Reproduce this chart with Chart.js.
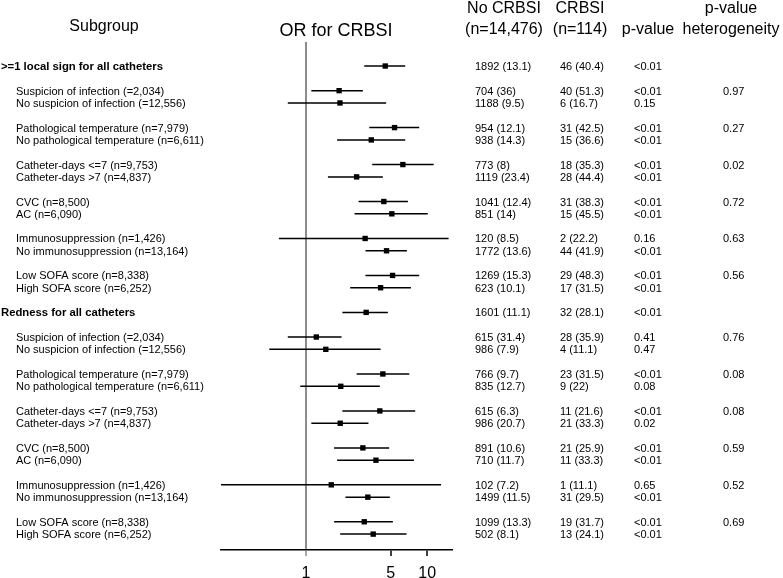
<!DOCTYPE html>
<html>
<head>
<meta charset="utf-8">
<script src="https://cdn.jsdelivr.net/npm/chart.js@4.4.0/dist/chart.umd.min.js"></script>
<style>
html,body{margin:0;padding:0;background:#fff;}
#wrap{width:783px;height:578px;position:relative;}
</style>
</head>
<body>
<div id="wrap"><canvas id="c"></canvas></div>
<script>
// ---- data (blank strings / nulls are spacer rows of the table) ----
const subgroups = [
  ">=1 local sign for all catheters", "",
  "Suspicion of infection (=2,034)", "No suspicion of infection (=12,556)", "",
  "Pathological temperature (n=7,979)", "No pathological temperature (n=6,611)", "",
  "Catheter-days <=7 (n=9,753)", "Catheter-days >7 (n=4,837)", "",
  "CVC (n=8,500)", "AC (n=6,090)", "",
  "Immunosuppression (n=1,426)", "No immunosuppression (n=13,164)", "",
  "Low SOFA score (n=8,338)", "High SOFA score (n=6,252)", "",
  "Redness for all catheters", "",
  "Suspicion of infection (=2,034)", "No suspicion of infection (=12,556)", "",
  "Pathological temperature (n=7,979)", "No pathological temperature (n=6,611)", "",
  "Catheter-days <=7 (n=9,753)", "Catheter-days >7 (n=4,837)", "",
  "CVC (n=8,500)", "AC (n=6,090)", "",
  "Immunosuppression (n=1,426)", "No immunosuppression (n=13,164)", "",
  "Low SOFA score (n=8,338)", "High SOFA score (n=6,252)"
];
const groupHeaders = [">=1 local sign for all catheters", "Redness for all catheters"];

const orValues = [
  4.51, null,
  1.88, 1.91, null,
  5.38, 3.46, null,
  6.30, 2.62, null,
  4.39, 5.11, null,
  3.08, 4.62, null,
  5.18, 4.13, null,
  3.14, null,
  1.22, 1.46, null,
  4.31, 1.94, null,
  4.07, 1.92, null,
  2.95, 3.78, null,
  1.62, 3.24, null,
  3.03, 3.59
];
const ciLower = [
  3.03, null,
  1.11, 0.71, null,
  3.33, 1.81, null,
  3.52, 1.52, null,
  2.72, 2.52, null,
  0.60, 3.10, null,
  3.10, 2.32, null,
  2.00, null,
  0.71, 0.50, null,
  2.62, 0.90, null,
  2.00, 1.11, null,
  1.71, 1.81, null,
  0.20, 2.12, null,
  1.71, 1.92
];
const ciUpper = [
  6.59, null,
  2.95, 4.59, null,
  8.59, 6.59, null,
  11.3, 4.31, null,
  6.93, 10.1, null,
  15.0, 6.80, null,
  8.59, 7.34, null,
  4.74, null,
  1.97, 4.13, null,
  7.11, 4.07, null,
  7.96, 3.28, null,
  4.86, 7.77, null,
  13.0, 4.92, null,
  5.21, 6.75
];
const noCrbsi = [
  "1892 (13.1)", "",
  "704 (36)", "1188 (9.5)", "",
  "954 (12.1)", "938 (14.3)", "",
  "773 (8)", "1119 (23.4)", "",
  "1041 (12.4)", "851 (14)", "",
  "120 (8.5)", "1772 (13.6)", "",
  "1269 (15.3)", "623 (10.1)", "",
  "1601 (11.1)", "",
  "615 (31.4)", "986 (7.9)", "",
  "766 (9.7)", "835 (12.7)", "",
  "615 (6.3)", "986 (20.7)", "",
  "891 (10.6)", "710 (11.7)", "",
  "102 (7.2)", "1499 (11.5)", "",
  "1099 (13.3)", "502 (8.1)"
];
const crbsi = [
  "46 (40.4)", "",
  "40 (51.3)", "6 (16.7)", "",
  "31 (42.5)", "15 (36.6)", "",
  "18 (35.3)", "28 (44.4)", "",
  "31 (38.3)", "15 (45.5)", "",
  "2 (22.2)", "44 (41.9)", "",
  "29 (48.3)", "17 (31.5)", "",
  "32 (28.1)", "",
  "28 (35.9)", "4 (11.1)", "",
  "23 (31.5)", "9 (22)", "",
  "11 (21.6)", "21 (33.3)", "",
  "21 (25.9)", "11 (33.3)", "",
  "1 (11.1)", "31 (29.5)", "",
  "19 (31.7)", "13 (24.1)"
];
const pValues = [
  "<0.01", "",
  "<0.01", "0.15", "",
  "<0.01", "<0.01", "",
  "<0.01", "<0.01", "",
  "<0.01", "<0.01", "",
  "0.16", "<0.01", "",
  "<0.01", "<0.01", "",
  "<0.01", "",
  "0.41", "0.47", "",
  "<0.01", "0.08", "",
  "<0.01", "0.02", "",
  "<0.01", "<0.01", "",
  "0.65", "<0.01", "",
  "<0.01", "<0.01"
];
const pHeterogeneity = [
  "", "",
  "0.97", "", "",
  "0.27", "", "",
  "0.02", "", "",
  "0.72", "", "",
  "0.63", "", "",
  "0.56", "", "",
  "", "",
  "0.76", "", "",
  "0.08", "", "",
  "0.08", "", "",
  "0.59", "", "",
  "0.52", "", "",
  "0.69", ""
];
const xTicks = [1, 5, 10];
const axisTitle = "OR for CRBSI";
const subgroupTitle = "Subgroup";
const colNoCrbsiTitle = ["No CRBSI", "(n=14,476)"];
const colCrbsiTitle = ["CRBSI", "(n=114)"];
const colPTitle = ["", "p-value"];
const colHetTitle = ["p-value", "heterogeneity"];

// ---- chart ----
const FONT = "'Liberation Sans', Arial, Helvetica, sans-serif";

const pointData = [];
const ciDatasets = [];
orValues.forEach((v, i) => {
  if (v === null) return;
  pointData.push({ x: v, y: i });
  ciDatasets.push({
    type: 'scatter',
    data: [{ x: ciLower[i], y: i }, { x: ciUpper[i], y: i }],
    showLine: true,
    borderColor: '#000',
    borderWidth: 1.5,
    pointRadius: 0,
    order: 2
  });
});

const tablePlugin = {
  id: 'forestTable',
  afterDraw(chart) {
    const ctx = chart.ctx;
    const ys = chart.scales.y;
    ctx.save();
    ctx.fillStyle = '#000';
    ctx.textBaseline = 'alphabetic';
    // headers
    ctx.textAlign = 'center';
    ctx.font = '16px ' + FONT;
    ctx.fillText(subgroupTitle, 104, 31);
    ctx.font = '18px ' + FONT;
    ctx.fillText(axisTitle, 336, 36);
    ctx.font = '16px ' + FONT;
    const heads = [[colNoCrbsiTitle, 504], [colCrbsiTitle, 580], [colPTitle, 648], [colHetTitle, 731]];
    heads.forEach(([lines, x]) => {
      if (lines[0]) ctx.fillText(lines[0], x, 13);
      if (lines[1]) ctx.fillText(lines[1], x, 34);
    });
    // rows
    ctx.textAlign = 'left';
    subgroups.forEach((lab, i) => {
      const y = ys.getPixelForValue(i) + 4;
      if (lab) {
        const head = groupHeaders.includes(lab);
        ctx.font = (head ? 'bold 11.3px ' : '11px ') + FONT;
        ctx.fillText(lab, head ? 1 : 16, y);
      }
      ctx.font = '11px ' + FONT;
      if (noCrbsi[i]) ctx.fillText(noCrbsi[i], 475, y);
      if (crbsi[i]) ctx.fillText(crbsi[i], 560, y);
      if (pValues[i]) ctx.fillText(pValues[i], 634, y);
      if (pHeterogeneity[i]) ctx.fillText(pHeterogeneity[i], 723, y);
    });
    ctx.restore();
  }
};

new Chart(document.getElementById('c'), {
  type: 'scatter',
  data: {
    datasets: [
      {
        data: pointData,
        pointStyle: 'rect',
        pointRadius: 3.8,
        pointBackgroundColor: '#000',
        pointBorderColor: '#000',
        pointBorderWidth: 0,
        order: 1
      },
      ...ciDatasets
    ]
  },
  options: {
    responsive: true,
    maintainAspectRatio: false,
    animation: false,
    layout: { padding: { left: 221, right: 331, top: 42, bottom: 0 } },
    plugins: { legend: { display: false }, tooltip: { enabled: false } },
    scales: {
      x: {
        type: 'logarithmic',
        min: 0.2,
        max: 16,
        afterBuildTicks: (scale) => { scale.ticks = xTicks.map(v => ({ value: v })); },
        afterFit: (scale) => { scale.height = 28; },
        ticks: {
          callback: (v) => String(v),
          color: '#000',
          font: { family: FONT, size: 16 },
          padding: 8,
          maxRotation: 0,
          autoSkip: false
        },
        grid: {
          drawOnChartArea: true,
          color: (c) => (c.tick && c.tick.value === 1) ? '#8c8c8c' : 'rgba(0,0,0,0)',
          lineWidth: (c) => (c.tick && c.tick.value === 1) ? 2 : 0,
          tickColor: (c) => (c.tick && c.tick.value === 1) ? '#8c8c8c' : '#000',
          tickWidth: 1.5,
          tickLength: 6
        },
        border: { display: true, color: '#000', width: 1.5 }
      },
      y: {
        type: 'linear',
        reverse: true,
        min: -1.95,
        max: 39.29,
        display: false
      }
    }
  },
  plugins: [tablePlugin]
});
</script>
</body>
</html>
